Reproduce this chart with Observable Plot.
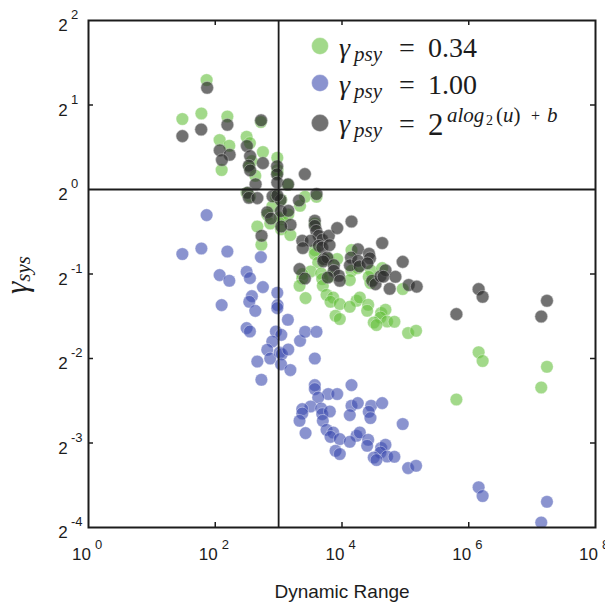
<!DOCTYPE html>
<html><head><meta charset="utf-8">
<script src="https://cdn.jsdelivr.net/npm/d3@7"></script>
<script src="https://cdn.jsdelivr.net/npm/@observablehq/plot@0.6"></script>
<style>
body{margin:0;background:#fff;}
#chart{width:605px;height:604px;}
</style></head><body><div id="chart"></div>
<script>
// Dynamic range of each image, as a power of ten (shared by the two fixed-gamma series)
const rangeExp = [1.864,1.481,1.781,2.191,2.720,2.069,2.222,2.495,2.547,2.752,
 2.979,2.578,2.537,2.101,2.632,2.983,2.979,3.146,2.495,2.547,
 2.957,3.042,2.900,2.821,2.868,3.015,3.051,3.152,3.338,2.664,
 3.039,3.185,2.728,3.417,3.598,3.571,3.571,3.571,3.783,3.924,
 4.150,3.625,3.504,3.373,3.373,3.330,3.425,3.672,3.688,3.808,
 3.697,3.756,3.861,3.819,3.965,3.898,3.965,4.150,4.249,4.123,
 4.460,4.634,4.422,4.449,4.958,4.229,4.281,4.123,4.413,4.397,
 4.618,4.686,4.607,4.501,4.712,4.827,4.544,5.043,5.169,6.156,
 6.219,7.234,7.144,5.805];
// gamma_sys as a power of two, gamma_psy = 1.00
const gammaExpPsy100 = [-0.303,-0.764,-0.698,-0.734,-0.800,-1.013,-1.080,-0.974,-1.049,-1.155,
 -1.222,-1.262,-1.329,-1.368,-1.436,-1.368,-1.404,-1.542,-1.640,-1.680,
 -1.680,-1.720,-1.799,-1.897,-2.000,-1.929,-1.948,-1.893,-1.791,-2.036,
 -2.069,-2.137,-2.252,-1.684,-1.684,-2.000,-2.315,-2.362,-2.421,-2.421,
 -2.315,-2.462,-2.568,-2.599,-2.651,-2.737,-2.883,-2.592,-2.658,-2.627,
 -2.737,-2.844,-2.876,-2.927,-2.954,-3.092,-3.131,-2.560,-2.528,-2.670,
 -2.560,-2.528,-2.631,-2.705,-2.776,-2.915,-2.876,-2.986,-2.962,-3.033,
 -3.060,-3.021,-3.112,-3.172,-3.160,-3.163,-3.202,-3.297,-3.270,-3.524,
 -3.628,-3.696,-3.941,-4.083];
// gamma_sys as a power of two, gamma_psy = 0.34
const gammaExpPsy034 = [1.295,0.834,0.900,0.864,0.798,0.585,0.518,0.624,0.549,0.443,
 0.376,0.336,0.269,0.230,0.162,0.230,0.194,0.056,-0.042,-0.082,
 -0.082,-0.122,-0.201,-0.299,-0.402,-0.331,-0.350,-0.295,-0.193,-0.438,
 -0.471,-0.539,-0.654,-0.086,-0.086,-0.402,-0.717,-0.764,-0.823,-0.823,
 -0.717,-0.864,-0.970,-1.001,-1.053,-1.139,-1.285,-0.994,-1.060,-1.029,
 -1.139,-1.246,-1.278,-1.329,-1.356,-1.494,-1.533,-0.962,-0.930,-1.072,
 -0.962,-0.930,-1.033,-1.107,-1.178,-1.317,-1.278,-1.388,-1.364,-1.435,
 -1.462,-1.423,-1.514,-1.574,-1.562,-1.565,-1.604,-1.699,-1.672,-1.926,
 -2.030,-2.098,-2.343,-2.485];
// fitted gamma_psy series: dynamic range (power of ten) and gamma_sys (power of two)
const rangeExpFit = [1.872,1.481,1.778,2.191,2.723,2.072,2.227,2.106,2.500,2.550,
 2.752,2.530,2.552,2.637,2.976,2.976,2.979,3.149,2.511,2.531,
 2.664,2.905,3.031,3.322,2.821,2.878,3.035,3.154,3.188,3.042,
 2.731,3.414,3.598,3.571,3.571,3.593,3.634,3.688,3.792,3.924,
 4.150,3.373,3.504,3.382,3.634,3.688,3.803,3.713,3.767,3.704,
 3.871,3.871,3.950,3.965,3.776,3.330,3.414,4.252,4.142,4.126,
 4.252,4.276,4.426,4.441,4.402,4.634,4.476,4.528,4.607,4.686,
 4.654,4.843,4.753,4.958,5.053,5.179,5.805,6.156,6.219,7.234,
 7.144,2.979];
const gammaExpFit = [1.204,0.632,0.710,0.766,0.819,0.464,0.411,0.349,0.515,0.395,
 0.312,0.283,0.226,0.062,0.275,0.180,0.083,0.062,-0.039,-0.098,
 -0.102,-0.080,-0.125,-0.130,-0.270,-0.344,-0.256,-0.252,-0.418,-0.438,
 -0.548,0.182,-0.054,-0.370,-0.430,-0.489,-0.548,-0.595,-0.548,-0.457,
 -0.379,-0.607,-0.607,-0.693,-0.666,-0.686,-0.658,-0.824,-0.805,-0.850,
 -0.895,-0.962,-1.021,-1.080,-1.041,-0.942,-1.053,-0.708,-0.805,-0.897,
 -0.844,-0.909,-0.761,-0.814,-0.873,-0.634,-1.080,-1.120,-1.027,-0.956,
 -1.031,-1.033,-1.175,-0.856,-1.130,-1.149,-1.475,-1.179,-1.270,-1.317,
 -1.503,-0.069];

const xTickExps = [0, 2, 4, 6, 8];
const yTickExps = [2, 1, 0, -1, -2, -3, -4];
const xInnerTickExps = [2, 4, 6];
const yInnerTickExps = [1, -1, -2, -3];
const refRange = 1000, refGamma = 1;

const colGreen = "rgb(100,192,60)", colBlue = "rgb(60,75,175)", colBlack = "rgb(45,45,45)";

const toRows = (xe, ye) => xe.map((e, i) => ({range: 10 ** e, gamma: 2 ** ye[i]}));
const green = toRows(rangeExp, gammaExpPsy034);
const blue = toRows(rangeExp, gammaExpPsy100);
const black = toRows(rangeExpFit, gammaExpFit);

const sans = "'Liberation Sans', Arial, Helvetica, sans-serif";
const serif = "'Liberation Serif', 'Times New Roman', serif";
const FH = 507; // frame size
const ink = "#1c1c1c";

const dotOpts = (fill, op) => ({x: "range", y: "gamma", r: 6.3, fill, fillOpacity: op,
  stroke: "white", strokeOpacity: 0.35, strokeWidth: 1, clip: true});

const chart = Plot.plot({
  width: 605, height: 604,
  marginLeft: 88, marginRight: 10, marginTop: 20, marginBottom: 77,
  x: {type: "log", domain: [1, 1e8], axis: null},
  y: {type: "log", base: 2, domain: [1/16, 4], axis: null},
  style: {background: "white", fontFamily: sans, color: ink},
  marks: [
    Plot.dot(green, dotOpts(colGreen, 0.6)),
    Plot.dot(blue, dotOpts(colBlue, 0.6)),
    Plot.dot(black, {...dotOpts(colBlack, 0.68), stroke: "#c8c8c8", strokeOpacity: 0.5}),
    Plot.ruleX([refRange], {stroke: ink, strokeWidth: 1.8}),
    Plot.ruleY([refGamma], {stroke: ink, strokeWidth: 1.8}),
    Plot.ruleX(xInnerTickExps.map(e => 10 ** e), {insetTop: FH - 5, stroke: ink, strokeWidth: 1.5}),
    Plot.ruleX(xInnerTickExps.map(e => 10 ** e), {insetBottom: FH - 5, stroke: ink, strokeWidth: 1.5}),
    Plot.ruleY(yInnerTickExps.map(e => 2 ** e), {insetLeft: FH - 5, stroke: ink, strokeWidth: 1.5}),
    Plot.ruleY(yInnerTickExps.map(e => 2 ** e), {insetRight: FH - 5, stroke: ink, strokeWidth: 1.5}),
    Plot.frame({stroke: ink, strokeWidth: 2}),
    Plot.text(xTickExps, {x: e => 10 ** e, frameAnchor: "bottom", lineAnchor: "middle", text: () => "10",
      dx: -7, dy: 27, fontSize: 17, textAnchor: "middle", fill: ink}),
    Plot.text(xTickExps, {x: e => 10 ** e, frameAnchor: "bottom", lineAnchor: "middle", text: e => String(e),
      dx: 10, dy: 17, fontSize: 13, textAnchor: "middle", fill: ink}),
    Plot.text(yTickExps, {y: e => 2 ** e, frameAnchor: "left", lineAnchor: "middle", text: () => "2",
      dx: -25.5, dy: 5.5, fontSize: 17, textAnchor: "middle", fill: ink}),
    Plot.text(yTickExps, {y: e => 2 ** e, frameAnchor: "left", lineAnchor: "middle", text: e => e < 0 ? "-" + (-e) : String(e),
      dx: -17.5, dy: -5.5, fontSize: 13, textAnchor: "start", fill: ink}),
    Plot.text(["Dynamic Range"], {frameAnchor: "bottom", lineAnchor: "middle", dy: 64, fontSize: 19, textAnchor: "middle", fill: ink})
  ]
});
document.getElementById("chart").appendChild(chart);

// y axis label and legend (math-style text)
const svg = d3.select(chart);
const yl = svg.append("text").attr("transform", "translate(27,294) rotate(-90)")
  .attr("text-anchor", "start").attr("font-family", serif).attr("fill", ink).attr("font-style", "italic");
yl.append("tspan").attr("font-size", 31).text("γ");
yl.append("tspan").attr("font-size", 21).attr("dy", 3).attr("dx", 0).text("sys");

const legendItems = [
  {fill: colGreen, op: 0.6, stroke: "white", y: 46, base: 57, value: "0.34"},
  {fill: colBlue, op: 0.6, stroke: "white", y: 83, base: 94, value: "1.00"},
  {fill: colBlack, op: 0.68, stroke: "#c8c8c8", y: 123, base: 133, value: null}
];
const lg = svg.append("g").attr("text-anchor", "start");
legendItems.forEach(d => {
  lg.append("circle").attr("cx", 320).attr("cy", d.y).attr("r", 8.5)
    .attr("fill", d.fill).attr("fill-opacity", d.op).attr("stroke", d.stroke).attr("stroke-opacity", 0.4);
  const t = lg.append("text").attr("font-family", serif).attr("fill", ink).attr("font-size", 28);
  t.append("tspan").attr("x", 339).attr("y", d.base).attr("font-style", "italic").text("γ");
  t.append("tspan").attr("x", 354).attr("y", d.base + 4).attr("font-style", "italic").attr("font-size", 21).text("psy");
  t.append("tspan").attr("x", 399).attr("y", d.base).text("=");
  if (d.value) {
    t.append("tspan").attr("x", 428).attr("y", d.base).text(d.value);
  } else {
    t.append("tspan").attr("x", 428).attr("y", d.base + 2).attr("font-size", 31).text("2");
    t.append("tspan").attr("x", 447).attr("y", d.base - 11).attr("font-size", 21).attr("font-style", "italic").text("alog");
    t.append("tspan").attr("x", 486).attr("y", d.base - 8).attr("font-size", 14).text("2");
    t.append("tspan").attr("x", 496).attr("y", d.base - 11).attr("font-size", 21).text("(");
    t.append("tspan").attr("font-size", 21).attr("font-style", "italic").text("u");
    t.append("tspan").attr("font-size", 21).text(")");
    t.append("tspan").attr("x", 531).attr("y", d.base - 12).attr("font-size", 16).text("+");
    t.append("tspan").attr("x", 547).attr("y", d.base - 11).attr("font-size", 21).attr("font-style", "italic").text("b");
  }
});
</script></body></html>
